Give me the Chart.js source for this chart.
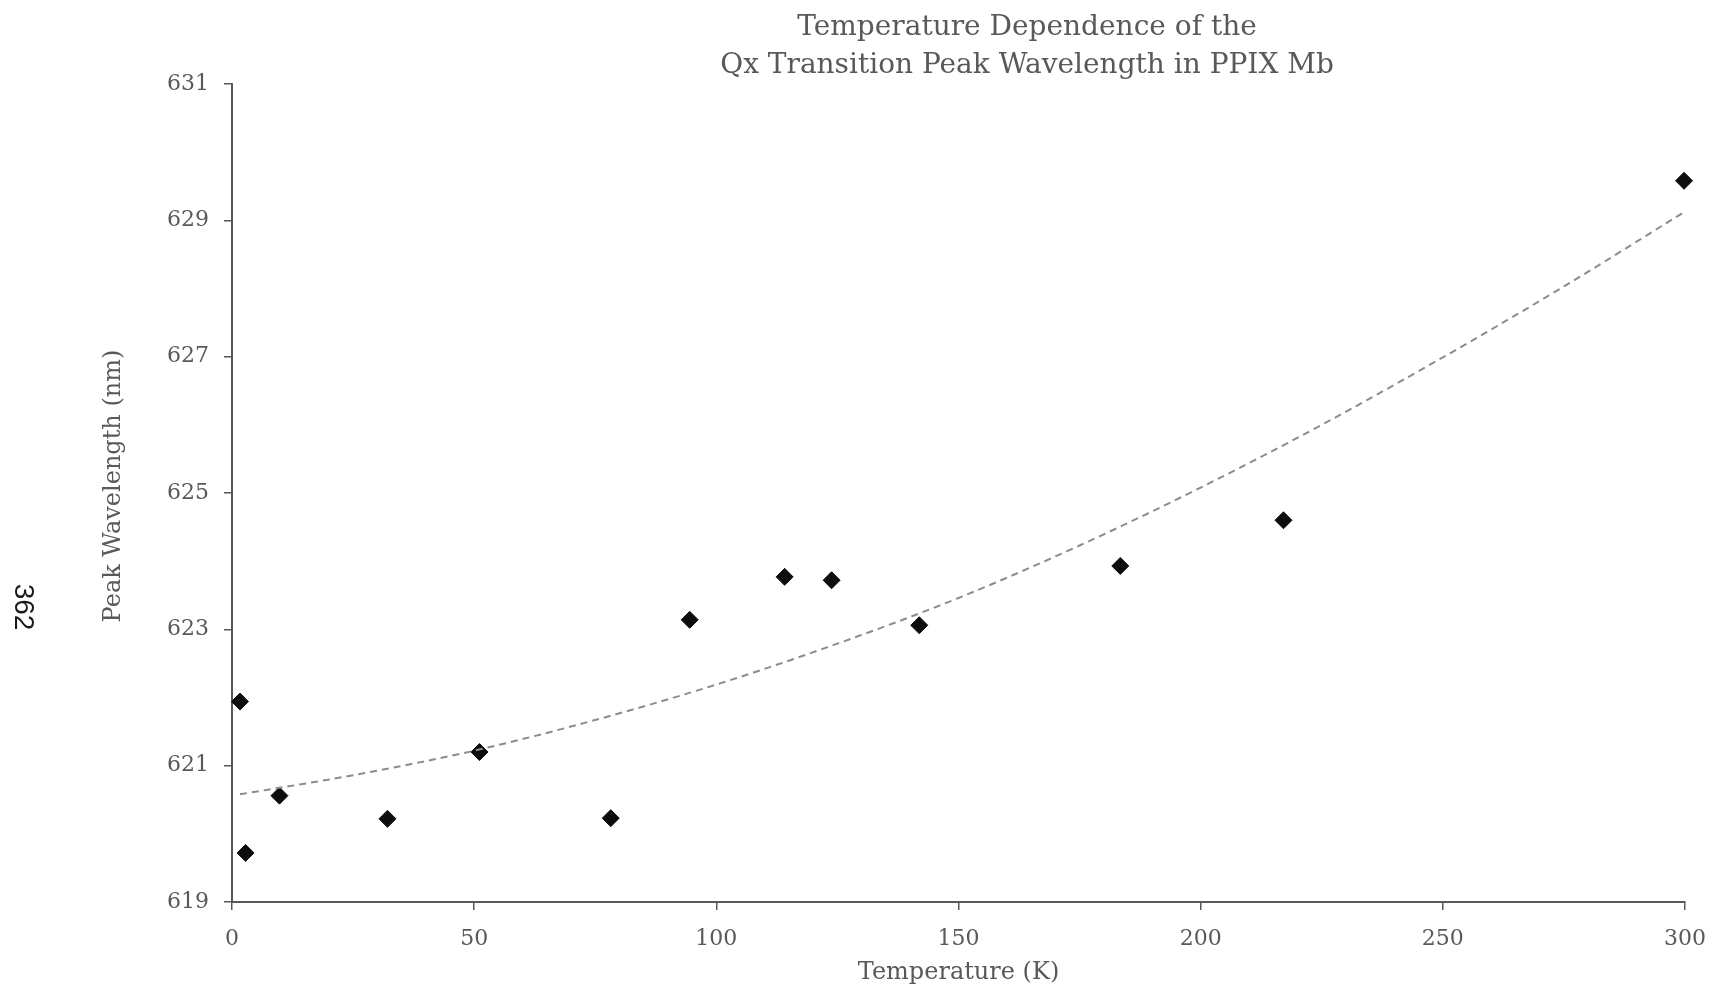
<!DOCTYPE html>
<html>
<head>
<meta charset="utf-8">
<title>Qx Transition Peak Wavelength</title>
<script src="https://cdn.jsdelivr.net/npm/chart.js@4.4.1/dist/chart.umd.min.js"></script>
<style>
  html, body { margin: 0; padding: 0; background: #fff; }
  #wrap { width: 1714px; height: 988px; }
</style>
</head>
<body>
<div id="wrap"><canvas id="chart" width="1714" height="988"></canvas></div>
<script>
// measured points (temperature in K, peak wavelength in nm)
const tempK = [1.65, 2.8, 9.8, 32.1, 51.1, 78.2, 94.5, 114.1, 123.8, 141.9, 183.4, 217.1, 299.8];
const peakNm = [621.94, 619.72, 620.56, 620.22, 621.20, 620.23, 623.14, 623.77, 623.72, 623.06, 623.93, 624.60, 629.58];

// dashed trend line
const trendK = [1.65, 25, 50, 75, 100, 125, 150, 175, 200, 225, 250, 275, 299.8];
const trendNm = [620.58, 620.86, 621.22, 621.67, 622.19, 622.79, 623.46, 624.23, 625.08, 626.00, 626.99, 628.03, 629.12];

const xTicks = [0, 50, 100, 150, 200, 250, 300];
const yTicks = [619, 621, 623, 625, 627, 629, 631];

const titleLines = ['Temperature Dependence of the', 'Qx Transition Peak Wavelength in PPIX Mb'];
const xTitle = 'Temperature (K)';
const yTitle = 'Peak Wavelength (nm)';
const pageNo = '362';

const GREY = '#595959';
const SERIF = 'DejaVu Serif';

const toXY = (xs, ys) => xs.map((x, i) => ({ x, y: ys[i] }));

// title sits right of centre in the original, y title a bit above centre,
// plus a rotated page number at the far left
const extraText = {
  id: 'extraText',
  afterDraw(chart) {
    const ctx = chart.ctx;
    ctx.save();
    ctx.fillStyle = GREY;
    ctx.font = '28px "' + SERIF + '"';
    ctx.textAlign = 'center';
    ctx.textBaseline = 'alphabetic';
    titleLines.forEach((t, i) => ctx.fillText(t, 1027, 35 + i * 38));

    ctx.save();
    ctx.translate(114, 486);
    ctx.rotate(-Math.PI / 2);
    ctx.font = '24px "' + SERIF + '"';
    ctx.textBaseline = 'middle';
    ctx.fillText(yTitle, 0, 0);
    ctx.restore();

    ctx.translate(23, 607);
    ctx.rotate(Math.PI / 2);
    ctx.fillStyle = '#1a1a1a';
    ctx.font = '28px "Liberation Sans"';
    ctx.textBaseline = 'middle';
    ctx.fillText(pageNo, 0, 0);
    ctx.restore();
  }
};

new Chart(document.getElementById('chart'), {
  type: 'scatter',
  data: {
    datasets: [
      {
        label: 'trend',
        type: 'line',
        data: toXY(trendK, trendNm),
        borderColor: '#8c8c8c',
        borderWidth: 2,
        borderDash: [7, 5],
        pointRadius: 0,
        fill: false,
        cubicInterpolationMode: 'monotone',
        order: 0
      },
      {
        label: 'Peak wavelength',
        data: toXY(tempK, peakNm),
        pointStyle: 'rectRot',
        pointRadius: 8.5,
        pointBorderWidth: 1,
        backgroundColor: '#0d0d0d',
        borderColor: '#0d0d0d',
        showLine: false,
        clip: false,
        order: 1
      }
    ]
  },
  options: {
    responsive: false,
    animation: false,
    devicePixelRatio: 1,
    layout: { padding: { top: 84, right: 29, left: 0, bottom: 0 } },
    plugins: {
      legend: { display: false },
      title: { display: false },
      tooltip: { enabled: false }
    },
    scales: {
      x: {
        type: 'linear',
        min: xTicks[0],
        max: xTicks[xTicks.length - 1],
        afterBuildTicks: s => { s.ticks = xTicks.map(v => ({ value: v })); },
        afterFit: s => { s.height = 86; s.paddingLeft = 0; s.paddingRight = 0; },
        ticks: { color: GREY, font: { family: SERIF, size: 22 }, padding: 16, maxRotation: 0 },
        grid: { display: true, drawOnChartArea: false, drawTicks: true, tickLength: 8, color: GREY, lineWidth: 1.5 },
        border: { display: true, color: GREY, width: 2 },
        title: { display: true, text: xTitle, color: GREY, font: { family: SERIF, size: 24 }, padding: { top: 0, bottom: 1 } }
      },
      y: {
        type: 'linear',
        min: yTicks[0],
        max: yTicks[yTicks.length - 1],
        afterBuildTicks: s => { s.ticks = yTicks.map(v => ({ value: v })); },
        afterFit: s => { s.width = 232; s.paddingTop = 0; s.paddingBottom = 0; },
        ticks: { color: GREY, font: { family: SERIF, size: 22 }, padding: 15 },
        grid: { display: true, drawOnChartArea: false, drawTicks: true, tickLength: 8, color: GREY, lineWidth: 1.5 },
        border: { display: true, color: GREY, width: 2 },
        title: { display: false, text: yTitle }
      }
    }
  },
  plugins: [extraText]
});
</script>
</body>
</html>
